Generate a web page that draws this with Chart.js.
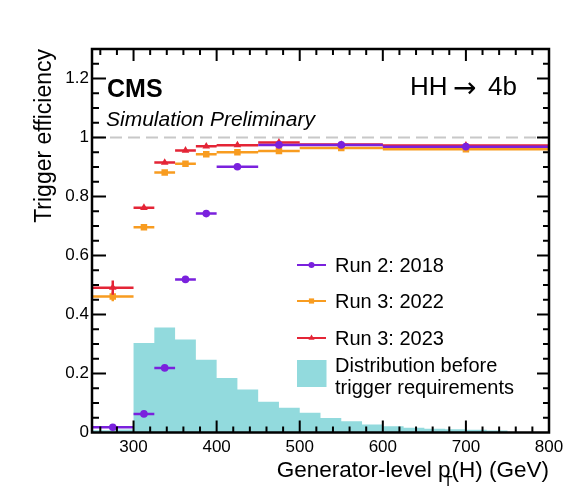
<!DOCTYPE html>
<html>
<head>
<meta charset="utf-8">
<script src="https://cdn.jsdelivr.net/npm/chart.js@4.4.1/dist/chart.umd.min.js"></script>
<style>
  html, body { margin: 0; padding: 0; background: #fff; }
  #wrap { width: 580px; height: 490px; }
</style>
</head>
<body>
<div id="wrap"><canvas id="effChart"></canvas></div>
<script>
// efficiency bins in generator-level pT(H), GeV
const binLo = [250, 300, 325, 350, 375, 400, 450, 500, 600];
const binHi = [300, 325, 350, 375, 400, 450, 500, 600, 800];

const eff2018 = [0.018, 0.063, 0.219, 0.519, 0.742, 0.901, 0.975, 0.975, 0.969];
const eff2022 = [0.461, 0.696, 0.881, 0.911, 0.943, 0.950, 0.954, 0.964, 0.960];
const eff2023 = [0.491, 0.762, 0.915, 0.956, 0.970, 0.974, 0.983, 0.976, 0.973];
const err2018 = [0.004, 0.004, 0.006, 0.007, 0.006, 0.004, 0.006, 0.004, 0.004];
const err2022 = [0.016, 0.006, 0.004, 0.004, 0.003, 0.003, 0.006, 0.003, 0.003];
const err2023 = [0.024, 0.007, 0.005, 0.004, 0.003, 0.003, 0.008, 0.003, 0.003];

// pT distribution before trigger requirements (25 GeV bins, arbitrary norm.)
const histEdges = [250, 275, 300, 325, 350, 375, 400, 425, 450, 475, 500, 525,
                   550, 575, 600, 625, 650, 675, 700, 725, 750, 775, 800];
const histValues = [0.008, 0.010, 0.303, 0.356, 0.315, 0.247, 0.185, 0.146, 0.104, 0.084, 0.067,
                    0.049, 0.038, 0.027, 0.021, 0.016, 0.013, 0.011, 0.009, 0.007, 0.000, 0.000];

const xTicks = [300, 400, 500, 600, 700, 800];
const yTicks = [0, 0.2, 0.4, 0.6, 0.8, 1, 1.2];

const FONT = "'Liberation Sans', Arial, Helvetica, sans-serif";

const series = [
  { label: 'Run 2: 2018', vals: eff2018, errs: err2018, color: '#7a21dd', style: 'circle', radius: 3.8 },
  { label: 'Run 3: 2022', vals: eff2022, errs: err2022, color: '#f89c20', style: 'rect', radius: 4.6 },
  { label: 'Run 3: 2023', vals: eff2023, errs: err2023, color: '#e42536', style: 'triangle', radius: 4.4 }
];
const histLabel = ['Distribution before', 'trigger requirements'];
const histColor = '#92dadd';

function barPoints(vals, errs) {
  const pts = [];
  vals.forEach((v, i) => {
    const c = (binLo[i] + binHi[i]) / 2;
    pts.push({ x: binLo[i], y: v }, { x: binHi[i], y: v }, { x: binHi[i], y: null });
    pts.push({ x: c, y: v - errs[i] }, { x: c, y: v + errs[i] }, { x: c, y: null });
  });
  return pts;
}
function markerPoints(vals) {
  return vals.map((v, i) => ({ x: (binLo[i] + binHi[i]) / 2, y: v }));
}

const histPoints = histValues.map((v, i) => ({ x: histEdges[i], y: v }));
histPoints.push({ x: histEdges[histEdges.length - 1], y: histValues[histValues.length - 1] });

const datasets = [{
  label: histLabel.join(' '),
  data: histPoints,
  stepped: 'before',
  fill: 'origin',
  backgroundColor: histColor,
  borderWidth: 0,
  pointRadius: 0,
  order: 20
}];
// draw order: 2022 at back, then 2023, 2018 on top
const orderOf = { 'Run 3: 2022': 6, 'Run 3: 2023': 4, 'Run 2: 2018': 2 };
series.forEach(s => {
  datasets.push({
    label: s.label + ' bars',
    data: barPoints(s.vals, s.errs),
    borderColor: s.color,
    borderWidth: 2.5,
    pointRadius: 0,
    spanGaps: false,
    fill: false,
    order: orderOf[s.label]
  });
  datasets.push({
    label: s.label,
    data: markerPoints(s.vals),
    showLine: false,
    pointStyle: s.style,
    pointRadius: s.radius,
    pointBackgroundColor: s.color,
    pointBorderColor: s.color,
    pointBorderWidth: 0,
    order: orderOf[s.label] - 1
  });
});

const cmsDecor = {
  id: 'cmsDecor',
  beforeDatasetsDraw(chart) {
    const { ctx, chartArea: a, scales: { y } } = chart;
    const py = y.getPixelForValue(1);
    ctx.save();
    ctx.strokeStyle = '#c8c8c8';
    ctx.lineWidth = 2;
    ctx.setLineDash([12, 6]);
    ctx.beginPath();
    ctx.moveTo(a.left, py);
    ctx.lineTo(a.right, py);
    ctx.stroke();
    ctx.restore();
  },
  afterDraw(chart) {
    const { ctx, chartArea: a, scales: { x, y } } = chart;
    ctx.save();
    ctx.strokeStyle = '#000';
    ctx.lineCap = 'butt';

    // ticks on all four sides, pointing inwards
    ctx.lineWidth = 2;
    ctx.beginPath();
    for (let v = 260; v < 800; v += 20) {
      const px = x.getPixelForValue(v);
      const major = xTicks.includes(v);
      const lb = major ? 12 : 6, lt = major ? 12 : 6;
      ctx.moveTo(px, a.bottom); ctx.lineTo(px, a.bottom - lb);
      ctx.moveTo(px, a.top); ctx.lineTo(px, a.top + lt);
    }
    for (let k = 1; k < 26; k++) {
      const v = k * 0.05;
      const py = y.getPixelForValue(v);
      const major = k % 4 === 0;
      const ll = major ? 14 : 7, lr = major ? 12 : 6;
      ctx.moveTo(a.left, py); ctx.lineTo(a.left + ll, py);
      ctx.moveTo(a.right, py); ctx.lineTo(a.right - lr, py);
    }
    ctx.stroke();

    // frame
    ctx.lineWidth = 2.5;
    ctx.strokeRect(a.left, a.top, a.right - a.left, a.bottom - a.top);

    // labels
    ctx.fillStyle = '#000';
    ctx.textBaseline = 'alphabetic';
    ctx.textAlign = 'left';
    ctx.font = 'bold 25px ' + FONT;
    ctx.fillText('CMS', 107, 96.5);
    ctx.font = 'italic 21px ' + FONT;
    ctx.fillText('Simulation Preliminary', 106, 126);
    ctx.font = '26px ' + FONT;
    ctx.fillText('HH', 410, 95);
    ctx.fillText('4b', 488, 95);
    ctx.font = "28px 'DejaVu Sans', sans-serif";
    ctx.fillText('\u2192', 453, 97);

    // x axis title with subscript T
    ctx.font = '22.5px ' + FONT;
    const t1 = 'Generator-level p', t2 = '(H) (GeV)';
    const w1 = ctx.measureText(t1).width, w2 = ctx.measureText(t2).width;
    const x0 = a.right - (w1 + w2 + 1);
    ctx.fillText(t1, x0, 476.5);
    ctx.fillText(t2, x0 + w1 + 1, 476.5);
    ctx.font = '15px ' + FONT;
    ctx.fillText('T', x0 + w1 - 7, 486);

    // legend
    const rows = [272, 308, 345];
    ctx.font = '20px ' + FONT;
    series.forEach((s, i) => {
      const ly = rows[i] - 7;
      ctx.strokeStyle = s.color;
      ctx.lineWidth = 2;
      ctx.beginPath();
      ctx.moveTo(297, ly); ctx.lineTo(326, ly);
      ctx.stroke();
      ctx.fillStyle = s.color;
      Chart.helpers.drawPoint(ctx, { pointStyle: s.style, radius: s.radius * 0.8, rotation: 0, borderWidth: 0 }, 311.5, ly);
      ctx.fillStyle = '#000';
      ctx.fillText(s.label, 335, rows[i]);
    });
    ctx.fillStyle = histColor;
    ctx.fillRect(297, 360, 29.5, 27);
    ctx.fillStyle = '#000';
    ctx.fillText(histLabel[0], 335, 372);
    ctx.fillText(histLabel[1], 335, 394);
    ctx.restore();
  }
};

const ctx = document.getElementById('effChart').getContext('2d');
const effChart = new Chart(ctx, {
  type: 'line',
  data: { datasets: datasets },
  plugins: [cmsDecor],
  options: {
    responsive: true,
    maintainAspectRatio: false,
    animation: false,
    layout: { padding: { top: 49, right: 31, left: 0, bottom: 0 } },
    plugins: { legend: { display: false }, tooltip: { enabled: false } },
    elements: { line: { tension: 0 } },
    scales: {
      x: {
        type: 'linear',
        min: 250,
        max: 800,
        afterBuildTicks: s => { s.ticks = xTicks.map(v => ({ value: v })); },
        afterFit: s => { s.height = 57.5; },
        grid: { display: false, drawTicks: false },
        border: { display: false },
        ticks: { color: '#000', padding: 5, maxRotation: 0, font: { family: FONT, size: 17 } }
      },
      y: {
        type: 'linear',
        min: 0,
        max: 1.3,
        afterBuildTicks: s => { s.ticks = yTicks.map(v => ({ value: v })); },
        afterFit: s => { s.width = 92; },
        grid: { display: false, drawTicks: false },
        border: { display: false },
        ticks: {
          color: '#000', padding: 3, font: { family: FONT, size: 17 },
          callback: v => String(Math.round(v * 10) / 10)
        },
        title: {
          display: true,
          text: 'Trigger efficiency',
          align: 'end',
          color: '#000',
          padding: { top: 31, bottom: 0 },
          font: { family: FONT, size: 23 }
        }
      }
    }
  }
});
</script>
</body>
</html>
